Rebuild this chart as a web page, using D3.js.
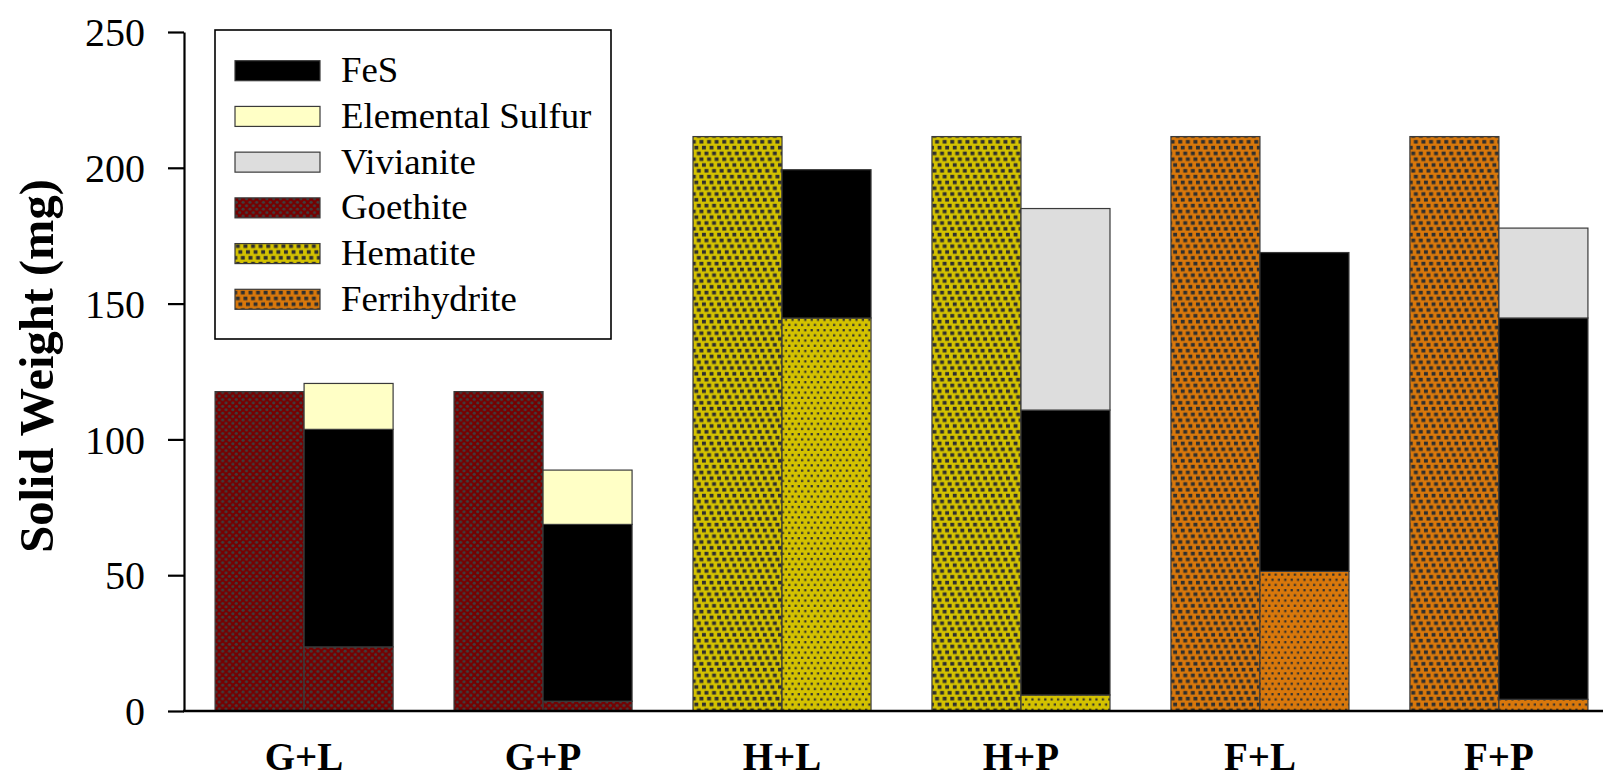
<!DOCTYPE html>
<html>
<head>
<meta charset="utf-8">
<script src="https://cdn.jsdelivr.net/npm/d3@7"></script>
<style>
  html, body { margin: 0; padding: 0; background: #fff; }
  svg { display: block; }
  svg text { font-family: "Liberation Serif", "Times New Roman", Times, serif; fill: #000; }
</style>
</head>
<body>
<div id="chart"></div>
<script>
// Treatment groups (mineral + sulfide source)
const categories = ["G+L", "G+P", "H+L", "H+P", "F+L", "F+P"];
const initialMineral = ["Goethite", "Goethite", "Hematite", "Hematite", "Ferrihydrite", "Ferrihydrite"];

// Solid weight before reaction (mg)
const initialWeight = [117.6, 117.6, 211.5, 211.5, 211.5, 211.5];

// Solid composition after reaction (mg), stacked bottom to top
const residualMineral = [23.6, 3.6, 144.7, 5.9, 51.4, 4.3];
const fesWeight = [80.1, 65.1, 54.6, 104.9, 117.4, 140.4];
const sulfurWeight = [16.9, 20.0, 0, 0, 0, 0];
const vivianiteWeight = [0, 0, 0, 74.2, 0, 33.1];

const yTicks = [0, 50, 100, 150, 200, 250];
const legendLabels = ["FeS", "Elemental Sulfur", "Vivianite", "Goethite", "Hematite", "Ferrihydrite"];

const W = 1603, H = 777;
const serif = "'Liberation Serif', 'Times New Roman', Times, serif";
const svg = d3.select("#chart").append("svg").attr("width", W).attr("height", H)
  .style("font-family", serif);
const defs = svg.append("defs");

const baseColor = { Goethite: "#760000", Hematite: "#d4c200", Ferrihydrite: "#d9780b" };
const dotColor = "#2f2f2f";

// Coarse staircase squares for the unreacted minerals
function coarsePattern(id, base) {
  const w = 7.6, h = 17.4, s = 3.9;
  const p = defs.append("pattern").attr("id", id)
    .attr("patternUnits", "userSpaceOnUse").attr("width", w).attr("height", h);
  p.append("rect").attr("width", w).attr("height", h).attr("fill", base);
  [[0.3, 0.8], [2.8, 6.6], [5.3, 12.4]].forEach(([dx, dy]) => {
    p.append("rect").attr("x", dx).attr("y", dy).attr("width", s).attr("height", s - 0.3).attr("fill", dotColor);
    if (dx + s > w) p.append("rect").attr("x", dx - w).attr("y", dy).attr("width", s).attr("height", s - 0.3).attr("fill", dotColor);
  });
}
// Fine dots for the residual minerals
function finePattern(id, base) {
  const p = defs.append("pattern").attr("id", id)
    .attr("patternUnits", "userSpaceOnUse").attr("width", 6.4).attr("height", 10.4);
  p.append("rect").attr("width", 6.4).attr("height", 10.4).attr("fill", base);
  p.append("rect").attr("x", 1).attr("y", 1.5).attr("width", 2.2).attr("height", 2.2).attr("fill", dotColor);
  p.append("rect").attr("x", 4.2).attr("y", 6.7).attr("width", 2.2).attr("height", 2.2).attr("fill", dotColor);
}
// Round grey dots for goethite
function goethitePattern(id, base) {
  const p = defs.append("pattern").attr("id", id)
    .attr("patternUnits", "userSpaceOnUse").attr("width", 6.8).attr("height", 6.8);
  p.append("rect").attr("width", 6.8).attr("height", 6.8).attr("fill", base);
  p.append("circle").attr("cx", 1.7).attr("cy", 1.7).attr("r", 1.55).attr("fill", "#3e3e3e");
  p.append("circle").attr("cx", 5.1).attr("cy", 5.1).attr("r", 1.55).attr("fill", "#3e3e3e");
}

goethitePattern("pat-Goethite-init", baseColor.Goethite);
goethitePattern("pat-Goethite-res", baseColor.Goethite);
coarsePattern("pat-Hematite-init", baseColor.Hematite);
finePattern("pat-Hematite-res", baseColor.Hematite);
coarsePattern("pat-Ferrihydrite-init", baseColor.Ferrihydrite);
finePattern("pat-Ferrihydrite-res", baseColor.Ferrihydrite);

// Scales
const axisX = 184;
const x = d3.scaleBand().domain(categories).range([axisX, 1619]).paddingInner(0.255).paddingOuter(0.13);
const y = d3.scaleLinear().domain([0, 250]).range([711, 32]);
const barW = x.bandwidth() / 2;

const rows = categories.map((c, i) => ({
  cat: c, mineral: initialMineral[i], initial: initialWeight[i],
  residual: residualMineral[i], FeS: fesWeight[i], Sulfur: sulfurWeight[i], Vivianite: vivianiteWeight[i]
}));

// Unreacted mineral bars
svg.append("g").selectAll("rect").data(rows).join("rect")
  .attr("x", d => x(d.cat))
  .attr("y", d => y(d.initial))
  .attr("width", barW)
  .attr("height", d => y(0) - y(d.initial))
  .attr("fill", d => `url(#pat-${d.mineral}-init)`)
  .attr("stroke", "#3a3a3a").attr("stroke-width", 1.2);

// Reacted solids, stacked
const keys = ["residual", "FeS", "Sulfur", "Vivianite"];
const stacked = d3.stack().keys(keys)(rows);
const fillFor = (key, d) => {
  if (key === "residual") return `url(#pat-${d.data.mineral}-res)`;
  if (key === "FeS") return "#000";
  if (key === "Sulfur") return "#ffffc6";
  return "#dddddd";
};
stacked.forEach(layer => {
  svg.append("g").selectAll("rect").data(layer.filter(d => d[1] - d[0] > 0)).join("rect")
    .attr("x", d => x(d.data.cat) + barW)
    .attr("y", d => y(d[1]))
    .attr("width", barW)
    .attr("height", d => y(d[0]) - y(d[1]))
    .attr("fill", d => fillFor(layer.key, d))
    .attr("stroke", "#3a3a3a").attr("stroke-width", 1.2);
});

// Y axis
const yAxis = d3.axisLeft(y).tickValues(yTicks).tickSize(16).tickSizeOuter(0).tickPadding(23);
const gy = svg.append("g").attr("transform", `translate(${axisX},0)`).call(yAxis)
  .attr("font-family", null).attr("font-size", null);
gy.select(".domain").attr("stroke", "#000").attr("stroke-width", 2.2);
gy.selectAll(".tick line").attr("stroke", "#000").attr("stroke-width", 2.2);
gy.selectAll(".tick text")
  .style("font-family", serif)
  .style("font-size", "40px")
  .attr("dy", "0.34em");

// X baseline
svg.append("line").attr("x1", axisX - 1).attr("x2", W).attr("y1", y(0)).attr("y2", y(0))
  .attr("stroke", "#000").attr("stroke-width", 2.4);

// Category labels
svg.append("g").selectAll("text").data(categories).join("text")
  .attr("x", d => x(d) + barW)
  .attr("y", 770)
  .attr("text-anchor", "middle")
  .style("font-family", serif)
  .style("font-weight", "bold")
  .style("font-size", "39px")
  .text(d => d);

// Y title
svg.append("text")
  .attr("transform", `translate(53,366) rotate(-90)`)
  .attr("text-anchor", "middle")
  .style("font-family", serif)
  .style("font-weight", "bold")
  .style("font-size", "48.5px")
  .text("Solid Weight (mg)");

// Legend
const legendFill = [
  "#000", "#ffffc6", "#dddddd",
  "url(#pat-Goethite-init)", "url(#pat-Hematite-init)", "url(#pat-Ferrihydrite-init)"
];
const lg = svg.append("g");
lg.append("rect").attr("x", 215).attr("y", 30).attr("width", 396).attr("height", 309)
  .attr("fill", "#fff").attr("stroke", "#000").attr("stroke-width", 1.6);
const rowY = d3.scalePoint().domain(legendLabels).range([70.7, 299.3]);
const items = lg.selectAll("g.item").data(legendLabels).join("g").attr("class", "item");
items.append("rect")
  .attr("x", 235).attr("y", d => rowY(d) - 10)
  .attr("width", 85).attr("height", 20)
  .attr("fill", (d, i) => legendFill[i])
  .attr("stroke", "#3a3a3a").attr("stroke-width", 1.2);
items.append("text")
  .attr("x", 341).attr("y", d => rowY(d) + 11.5)
  .style("font-family", serif)
  .style("font-size", "36.8px")
  .text(d => d);
</script>
</body>
</html>
